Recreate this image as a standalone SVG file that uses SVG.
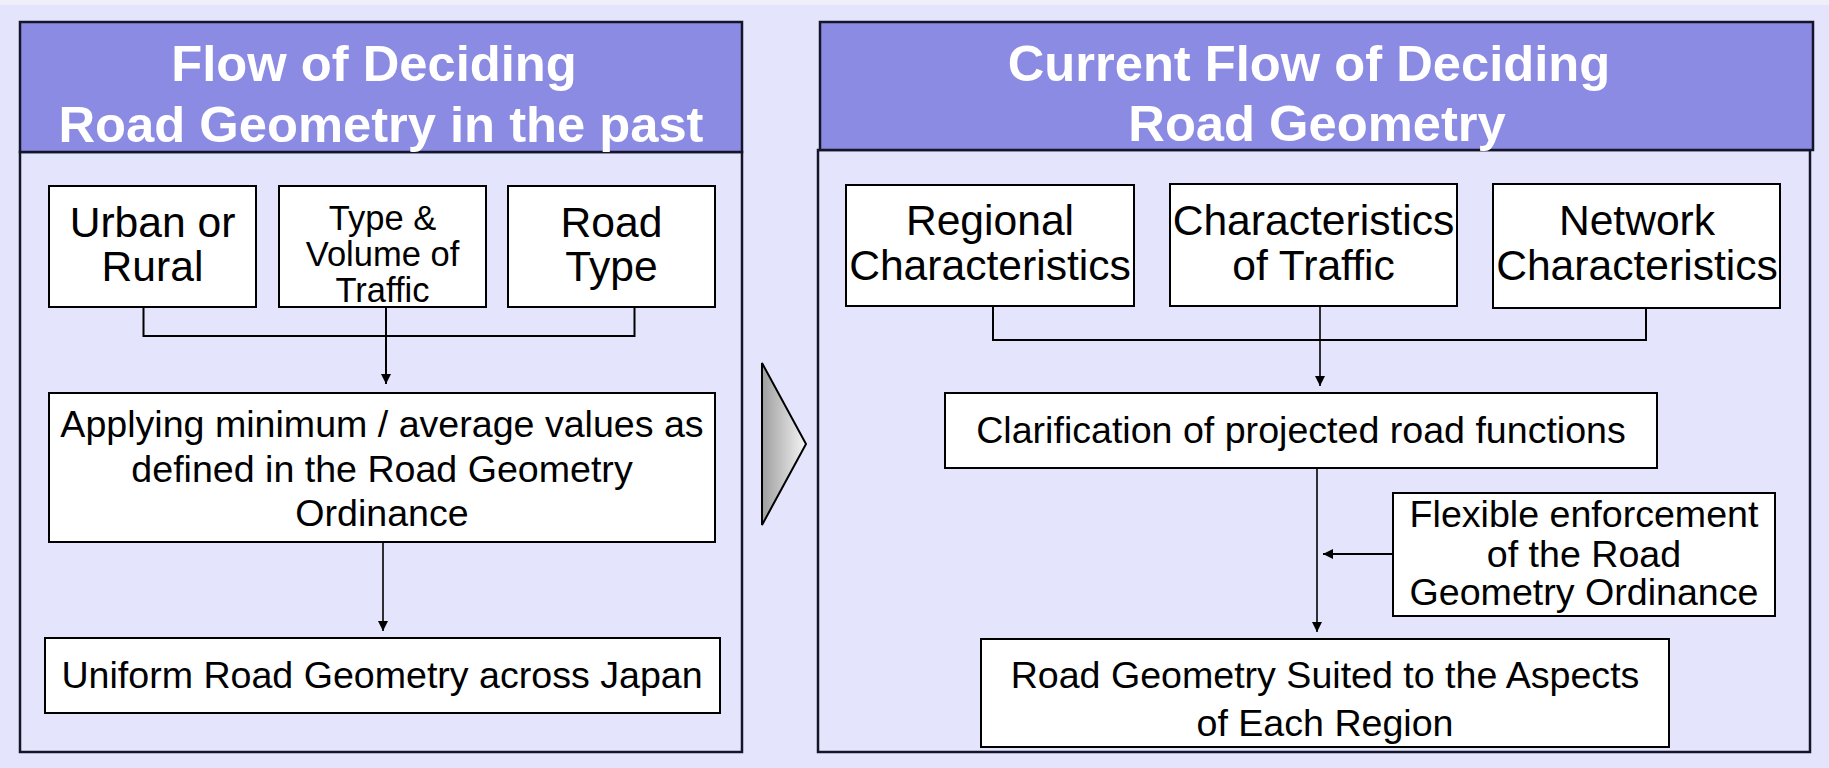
<svg xmlns="http://www.w3.org/2000/svg" width="1829" height="768" viewBox="0 0 1829 768">
<style>
.hdr{fill:#8B8BE3;stroke:#15152a;stroke-width:2.5}
.body{fill:none;stroke:#15152a;stroke-width:2.5}
.box{fill:#fff;stroke:#000;stroke-width:2}
.t{font-family:"Liberation Sans",Arial,sans-serif;fill:#000;text-anchor:middle}
.title{font-family:"Liberation Sans",Arial,sans-serif;font-weight:bold;font-size:50.7px;fill:#fff;text-anchor:middle}
.f42{font-size:42.6px}
.f34{font-size:34.5px}
.f37{font-size:37.6px}
.ln{fill:none;stroke:#000;stroke-width:2}
.ln1{fill:none;stroke:#000;stroke-width:1.6}
</style>
<defs>
<marker id="ah" markerUnits="userSpaceOnUse" markerWidth="11" markerHeight="10" refX="10" refY="5" orient="auto">
<path d="M0,0 L10,5 L0,10 z" fill="#000"/>
</marker>
<linearGradient id="tg" x1="0" y1="0" x2="1" y2="0">
<stop offset="0" stop-color="#9E9E9E"/>
<stop offset="1" stop-color="#F5F5F5"/>
</linearGradient>
</defs>
<rect x="0" y="0" width="1829" height="768" fill="#E4E4FC"/>
<rect x="0" y="0" width="1829" height="5" fill="#EFEFFA"/>

<g id="left-panel">
<rect class="body" x="20" y="152" width="722" height="600"/>
<rect class="hdr" x="20" y="22" width="722" height="130"/>
<text class="title" x="374" y="81">Flow of Deciding</text>
<text class="title" x="381" y="142">Road Geometry in the past</text>
</g>

<g id="right-panel">
<rect class="body" x="818" y="150" width="992" height="602"/>
<rect class="hdr" x="820" y="22" width="993" height="128"/>
<text class="title" x="1309" y="81">Current Flow of Deciding</text>
<text class="title" x="1317" y="141">Road Geometry</text>
</g>

<g id="transition-arrow">
<polygon points="762,363 806,444 762,525" fill="url(#tg)" stroke="#000" stroke-width="2"/>
</g>

<g id="urban-rural">
<rect class="box" x="49" y="186" width="207" height="121"/>
<text class="t f42" x="152.5" y="237">Urban or</text>
<text class="t f42" x="152.5" y="281">Rural</text>
</g>
<g id="type-volume">
<rect class="box" x="279" y="186" width="207" height="121"/>
<text class="t f34" x="382.5" y="230">Type &amp;</text>
<text class="t f34" x="382.5" y="266">Volume of</text>
<text class="t f34" x="382.5" y="302">Traffic</text>
</g>
<g id="road-type">
<rect class="box" x="508" y="186" width="207" height="121"/>
<text class="t f42" x="611.5" y="237">Road</text>
<text class="t f42" x="611.5" y="281">Type</text>
</g>
<g id="applying">
<rect class="box" x="49" y="393" width="666" height="149"/>
<text class="t f37" x="382" y="437">Applying minimum / average values as</text>
<text class="t f37" x="382" y="482">defined in the Road Geometry</text>
<text class="t f37" x="382" y="526">Ordinance</text>
</g>
<g id="uniform">
<rect class="box" x="45" y="638" width="675" height="75"/>
<text class="t f37" x="382" y="688">Uniform Road Geometry across Japan</text>
</g>

<g id="regional">
<rect class="box" x="846" y="185" width="288" height="121"/>
<text class="t f42" x="990" y="235">Regional</text>
<text class="t f42" x="990" y="280">Characteristics</text>
</g>
<g id="traffic-char">
<rect class="box" x="1170" y="184" width="287" height="122"/>
<text class="t f42" x="1313.5" y="235">Characteristics</text>
<text class="t f42" x="1313.5" y="280">of Traffic</text>
</g>
<g id="network">
<rect class="box" x="1493" y="184" width="287" height="124"/>
<text class="t f42" x="1637" y="235">Network</text>
<text class="t f42" x="1637" y="280">Characteristics</text>
</g>
<g id="clarification">
<rect class="box" x="945" y="393" width="712" height="75"/>
<text class="t f37" x="1301" y="443">Clarification of projected road functions</text>
</g>
<g id="flexible">
<rect class="box" x="1393" y="493" width="382" height="123"/>
<text class="t f37" x="1584" y="527">Flexible enforcement</text>
<text class="t f37" x="1584" y="567">of the Road</text>
<text class="t f37" x="1584" y="605">Geometry Ordinance</text>
</g>
<g id="suited">
<rect class="box" x="981" y="639" width="688" height="108"/>
<text class="t f37" x="1325" y="688">Road Geometry Suited to the Aspects</text>
<text class="t f37" x="1325" y="736">of Each Region</text>
</g>

<g id="connectors">
<path class="ln" d="M143.5 307 V336 H634.5 V307"/>
<path class="ln" d="M386 307 V384" marker-end="url(#ah)"/>
<path class="ln1" d="M383 542 V631" marker-end="url(#ah)"/>
<path class="ln" d="M993 306 V340 H1646 V308"/>
<path class="ln1" d="M1320 306 V386" marker-end="url(#ah)"/>
<path class="ln1" d="M1317 468 V632" marker-end="url(#ah)"/>
<path class="ln" d="M1393 554 H1323" marker-end="url(#ah)"/>
</g>
</svg>
